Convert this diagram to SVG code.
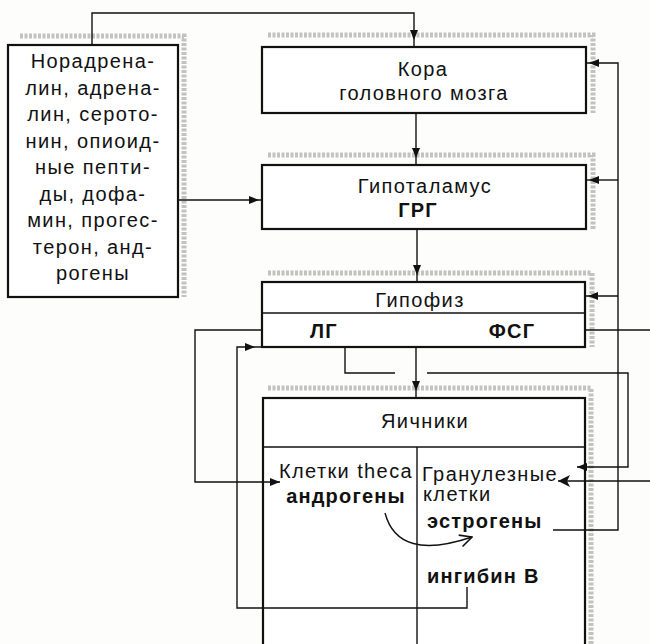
<svg xmlns="http://www.w3.org/2000/svg" width="650" height="644" viewBox="0 0 650 644">
<defs>
<style>
.bg{fill:#fdfdfb}
.shadow{fill:none;stroke:#c2c2c2;stroke-width:5;stroke-dasharray:3 1.5}
.box{fill:#ffffff;stroke:#111;stroke-width:2.2}
.div{fill:none;stroke:#111;stroke-width:1.4}
.con{fill:none;stroke:#111;stroke-width:1.4}
text{font-family:"Liberation Sans",Arial,sans-serif;font-size:20px;fill:#111;letter-spacing:1.4px}
.c{text-anchor:middle}
.b{font-weight:bold;letter-spacing:1.2px}
</style>
<marker id="ah" markerUnits="userSpaceOnUse" viewBox="0 0 10 8" markerWidth="10" markerHeight="8" refX="10" refY="4" orient="auto"><path d="M0,0 L10,4 L0,8 Z" fill="#111"/></marker>
<marker id="ah3" markerUnits="userSpaceOnUse" viewBox="0 0 10 8" markerWidth="10" markerHeight="8" refX="13" refY="4" orient="auto" overflow="visible"><path d="M0,0 L10,4 L0,8 Z" fill="#111"/></marker>
<marker id="ahs" markerUnits="userSpaceOnUse" viewBox="0 0 10 8" markerWidth="10" markerHeight="8" refX="17" refY="4" orient="auto" overflow="visible"><path d="M0,0 L10,4 L0,8 Z" fill="#111"/></marker>
<marker id="ahb" markerUnits="userSpaceOnUse" viewBox="0 0 12 12" markerWidth="12" markerHeight="12" refX="12" refY="6" orient="auto"><path d="M0,0 L12,6 L0,12 L3,6 Z" fill="#111"/></marker>
<marker id="aho" markerUnits="userSpaceOnUse" viewBox="0 0 14 14" markerWidth="14" markerHeight="14" refX="13" refY="7" orient="auto"><path d="M1,1 L13,7 L1,13" fill="none" stroke="#111" stroke-width="1.6"/></marker>
</defs>
<rect class="bg" x="0" y="0" width="650" height="644"/>

<g id="node-neuro">
<path class="shadow" d="M20,36 H184 V297"/>
<rect class="box" x="8" y="45" width="170" height="252"/>
<text class="c" x="93" y="68">Норадрена-</text>
<text class="c" x="93" y="94.5">лин, адрена-</text>
<text class="c" x="93" y="121">лин, серото-</text>
<text class="c" x="93" y="147.5">нин, опиоид-</text>
<text class="c" x="93" y="174">ные пепти-</text>
<text class="c" x="93" y="200.5">ды, дофа-</text>
<text class="c" x="93" y="227">мин, прогес-</text>
<text class="c" x="93" y="253.5">терон, анд-</text>
<text class="c" x="93" y="280">рогены</text>
</g>

<g id="node-cortex">
<path class="shadow" d="M268,35 H593 V113"/>
<rect class="box" x="262" y="47" width="324" height="66"/>
<text class="c" x="423" y="76">Кора</text>
<text class="c" x="424" y="100">головного мозга</text>
</g>

<g id="node-hypothalamus">
<path class="shadow" d="M268,155 H593 V229"/>
<rect class="box" x="262" y="165" width="324" height="64"/>
<text class="c" x="425" y="193">Гипоталамус</text>
<text class="c b" x="418" y="217">ГРГ</text>
</g>

<g id="node-pituitary">
<path class="shadow" d="M268,273 H592 V347"/>
<rect class="box" x="262" y="282" width="323" height="65"/>
<line class="div" x1="262" y1="313" x2="585" y2="313"/>
<text class="c" x="420" y="307">Гипофиз</text>
<text class="c b" x="324" y="338">ЛГ</text>
<text class="c b" x="512" y="338">ФСГ</text>
</g>

<g id="node-ovaries">
<path class="shadow" d="M268,388 H591 V644"/>
<rect class="box" x="263" y="398" width="322" height="270"/>
<line class="div" x1="263" y1="447" x2="585" y2="447"/>
<line class="div" x1="417" y1="447" x2="417" y2="644"/>
<text class="c" x="425" y="428">Яичники</text>
<text class="c" x="346" y="478">Клетки theca</text>
<text class="c b" x="346" y="503">андрогены</text>
<text x="422" y="481">Гранулезные</text>
<text x="423" y="501">клетки</text>
<text class="b" x="427" y="528">эстрогены</text>
<text class="b" x="427" y="583">ингибин В</text>
</g>

<g id="connectors">
<path class="con" d="M92,45 V13 H414 V47" marker-end="url(#ahs)"/>
<path class="con" d="M416,113 V165" marker-end="url(#ahs)"/>
<path class="con" d="M417,229 V282" marker-end="url(#ahs)"/>
<path class="con" d="M416,347 V398" marker-end="url(#ahs)"/>
<path class="con" d="M178,200 H262" marker-end="url(#ah3)"/>
<path class="con" d="M553,530 H618 V63 H586" marker-end="url(#ah3)"/>
<path class="con" d="M618,180 H586" marker-end="url(#ah3)"/>
<path class="con" d="M618,296 H585" marker-end="url(#ah3)"/>
<path class="con" d="M262,330 H195 V482 H280" marker-end="url(#ah)"/>
<path class="con" d="M345,347 V373 H395"/>
<path class="con" d="M427,373 H628 V467 H577" marker-end="url(#ah)"/>
<path class="con" d="M585,330 H650"/>
<path class="con" d="M650,481 H558" marker-end="url(#ahb)"/>
<path class="con" d="M467,587 V608 H237 V347 H262" marker-end="url(#ahs)"/>
<path class="con" d="M385,513 Q398,562 472,537" stroke-width="1.8" marker-end="url(#aho)"/>
</g>
</svg>
